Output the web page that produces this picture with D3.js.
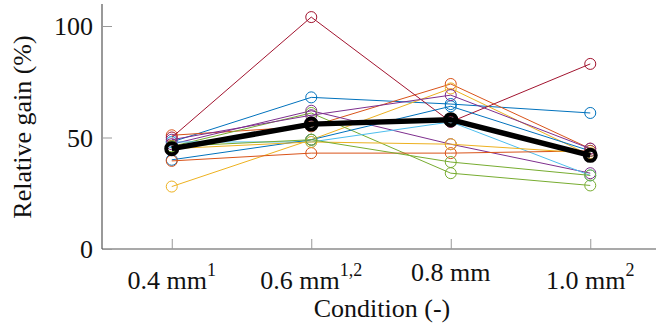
<!DOCTYPE html>
<html><head><meta charset="utf-8">
<script src="https://cdn.jsdelivr.net/npm/d3@7"></script>
<style>body{margin:0;background:#fff}svg{display:block}</style>
</head><body><div id="c"></div>
<script>
const categories = ["0.4 mm", "0.6 mm", "0.8 mm", "1.0 mm"];
const superscripts = ["1", "1,2", "", "2"];
const seriesColors = ["#0072BD","#D95319","#EDB120","#7E2F8E","#77AC30","#4DBEEE","#A2142F","#0072BD","#D95319","#EDB120","#7E2F8E","#77AC30"];
const s1  = [48, 68, 65, 61];
const s2  = [51, 55, 74, 45];
const s3  = [28, 49, 72, 42];
const s4  = [47, 62, 47, 34];
const s5  = [46, 61, 34, 28.5];
const s6  = [48, 48, 57, 33];
const s7  = [50, 104, 57, 83];
const s8  = [40, 49, 64, 44];
const s9  = [39.5, 43, 43, 44];
const s10 = [45, 48, 47, 43];
const s11 = [49, 60, 69, 45];
const s12 = [46, 49, 39, 33];
const meanValues = [45, 56, 58, 42];
const yTicks = [0, 50, 100];
const series = [s1,s2,s3,s4,s5,s6,s7,s8,s9,s10,s11,s12];

const W = 656, H = 328;
const svg = d3.select("#c").append("svg").attr("width", W).attr("height", H);
const x = d3.scaleLinear().domain([-0.5, 3.5]).range([102, 660]);
const y = d3.scaleLinear().domain([0, 100]).range([249, 26]);
const font = "'Liberation Serif', 'Times New Roman', serif";

// axes
const gx = svg.append("g").attr("transform", "translate(0,249)")
  .call(d3.axisBottom(x).tickValues([0,1,2,3]).tickSizeInner(-10).tickSizeOuter(0).tickFormat(""));
gx.select(".domain").attr("stroke", "#555").attr("stroke-width", 1.2).attr("d", `M${x(-0.5)},0H${W}`);
gx.selectAll(".tick line").attr("stroke", "#999");
const gy = svg.append("g").attr("transform", "translate(102,0)")
  .call(d3.axisLeft(y).tickValues(yTicks).tickSizeInner(-10).tickSizeOuter(0).tickFormat(""));
gy.select(".domain").attr("stroke", "#555").attr("stroke-width", 1.2).attr("d", `M0,4V249`);
gy.selectAll(".tick line").attr("stroke", "#999");

// y tick labels
svg.selectAll(".ylab").data(yTicks).join("text")
  .attr("x", 93).attr("y", d => y(d)).attr("dy", "0.35em")
  .attr("text-anchor", "end").attr("font-family", font).attr("font-size", 26).attr("fill", "#111")
  .text(d => d);

// x tick labels (top-aligned like LaTeX: labels with superscripts sit lower)
const xl = svg.selectAll(".xlab").data(categories).join("text")
  .attr("x", (d,i) => x(i)).attr("y", (d,i) => superscripts[i] ? 289 : 281)
  .attr("text-anchor", "middle").attr("font-family", font).attr("font-size", 26).attr("fill", "#111");
xl.append("tspan").text(d => d);
xl.append("tspan").attr("dy", -13).attr("font-size", 18).text((d,i) => superscripts[i]);

svg.append("text").attr("x", 382).attr("y", 317).attr("text-anchor", "middle")
  .attr("font-family", font).attr("font-size", 26).attr("fill", "#111").text("Condition (-)");
svg.append("text").attr("transform", "translate(31,127) rotate(-90)").attr("text-anchor", "middle")
  .attr("font-family", font).attr("font-size", 26).attr("fill", "#111").text("Relative gain (%)");

const line = d3.line().x((d,i) => x(i)).y(d => y(d));
series.forEach((s, k) => {
  const g = svg.append("g");
  g.append("path").attr("d", line(s)).attr("fill", "none").attr("stroke", seriesColors[k]).attr("stroke-width", 1);
  g.selectAll("circle").data(s).join("circle")
    .attr("cx", (d,i) => x(i)).attr("cy", d => y(d)).attr("r", 5.5)
    .attr("fill", "none").attr("stroke", seriesColors[k]).attr("stroke-width", 1);
});
const gm = svg.append("g");
gm.append("path").attr("d", line(meanValues)).attr("fill", "none").attr("stroke", "#000").attr("stroke-width", 5.5);
gm.selectAll("circle").data(meanValues).join("circle")
  .attr("cx", (d,i) => x(i)).attr("cy", d => y(d)).attr("r", 5.5)
  .attr("fill", "none").attr("stroke", "#000").attr("stroke-width", 4);
</script></body></html>
